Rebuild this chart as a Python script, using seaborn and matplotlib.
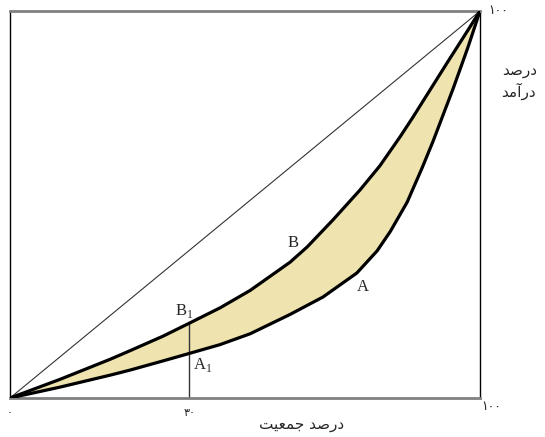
import numpy as np
import pandas as pd
import matplotlib
matplotlib.use("Agg")
import matplotlib.pyplot as plt
import seaborn as sns

# Data (percent of population vs percent of income)
pop_B = [0, 10.6, 21.3, 25.5, 32.6, 38.1, 44.7, 51.1, 59.6, 63.2, 68.7, 74.5, 78.7, 83.0, 85.7, 93.0, 97.2, 100]
inc_B = [0, 4.8, 10.0, 12.2, 16.0, 19.3, 23.3, 27.8, 35.1, 39.0, 46.0, 53.8, 60.0, 67.5, 72.5, 86.6, 94.6, 100]
pop_A = [0, 10.6, 21.3, 25.5, 32.6, 38.1, 44.7, 51.1, 59.6, 66.6, 73.8, 78.1, 80.9, 84.5, 87.7, 90.0, 94.3, 97.4, 100]
inc_A = [0, 2.8, 5.9, 7.2, 9.6, 11.5, 13.8, 16.6, 21.6, 26.1, 32.3, 38.0, 43.0, 50.6, 59.5, 66.3, 80.0, 90.5, 100]
equal_x = [0, 100]
equal_y = [0, 100]
mark_x = 38.1          # position of the "30" marker
mark_top = 19.3
tick_pos = [0, mark_x]
tick_labels = ["\u06f0", "\u06f3\u06f0"]
hundred = "\u06f1\u06f0\u06f0"
# Persian labels in visual (shaped) order
xlabel = "\ufe96\ufef4\ufecc\ufee4\ufe9f \ufeaa\ufebb\ufead\ufea9"   # درصد جمعیت
ylabel1 = "\ufeaa\ufebb\ufead\ufea9"                               # درصد
ylabel2 = "\ufeaa\ufee3\ufe81\ufead\ufea9"                         # درآمد

sns.set_theme(style="white")
plt.rcParams["font.family"] = ["DejaVu Sans", "Noto Sans"]
plt.rcParams["mathtext.fontset"] = "custom"
plt.rcParams["mathtext.rm"] = "Liberation Serif"

fig = plt.figure(figsize=(5.45, 4.37), dpi=100)
ax = fig.add_axes([10 / 545, 39 / 437, 470 / 545, 387 / 437])

dfB = pd.DataFrame({"x": pop_B, "y": inc_B})
dfA = pd.DataFrame({"x": pop_A, "y": inc_A})

ax.fill(np.concatenate([pop_B, pop_A[::-1]]), np.concatenate([inc_B, inc_A[::-1]]),
        color="#EFE3B0", lw=0, zorder=1)
sns.lineplot(x=equal_x, y=equal_y, ax=ax, color="#333333", lw=0.8, zorder=2)
sns.lineplot(data=dfB, x="x", y="y", ax=ax, color="black", lw=2.3, sort=False, zorder=3,
             solid_joinstyle="round", solid_capstyle="round")
sns.lineplot(data=dfA, x="x", y="y", ax=ax, color="black", lw=2.3, sort=False, zorder=3,
             solid_joinstyle="round", solid_capstyle="round")
ax.vlines(mark_x, 0, mark_top, color="#333333", lw=1.0, zorder=2)

ax.set_xlim(0, 100)
ax.set_ylim(0, 100)
ax.set_xlabel("")
ax.set_ylabel("")
ax.set_xticks(tick_pos)
ax.set_xticklabels(tick_labels, fontsize=8)
ax.set_yticks([])
ax.tick_params(axis="x", length=0, pad=7)

for side in ["top", "bottom"]:
    ax.spines[side].set_color("#808080")
    ax.spines[side].set_linewidth(2)
for side in ["left", "right"]:
    ax.spines[side].set_color("black")
    ax.spines[side].set_linewidth(1)

serif = "Liberation Serif"
ax.text(60.2, 40.1, "B", family=serif, fontsize=12, ha="center", va="center")
ax.text(75.1, 28.7, "A", family=serif, fontsize=12, ha="center", va="center")
ax.text(37.0, 22.4, r"B$_\mathregular{1}$", family=serif, fontsize=12, ha="center", va="center")
ax.text(41.0, 8.6, r"A$_\mathregular{1}$", family=serif, fontsize=12, ha="center", va="center")

ax.annotate(hundred, xy=(100, 100), xytext=(6, 0), textcoords="offset points",
            fontsize=9, ha="left", va="center")
ax.annotate(hundred, xy=(100, 0), xytext=(1, -6), textcoords="offset points",
            fontsize=9, ha="left", va="center")
fig.text(302 / 545, 1 - 425 / 437, xlabel, fontsize=11, ha="center", va="center")
fig.text(520 / 545, 1 - 71 / 437, ylabel1, fontsize=11, ha="center", va="center")
fig.text(518 / 545, 1 - 91 / 437, ylabel2, fontsize=11, ha="center", va="center")

fig.savefig("out.png", dpi=100)
